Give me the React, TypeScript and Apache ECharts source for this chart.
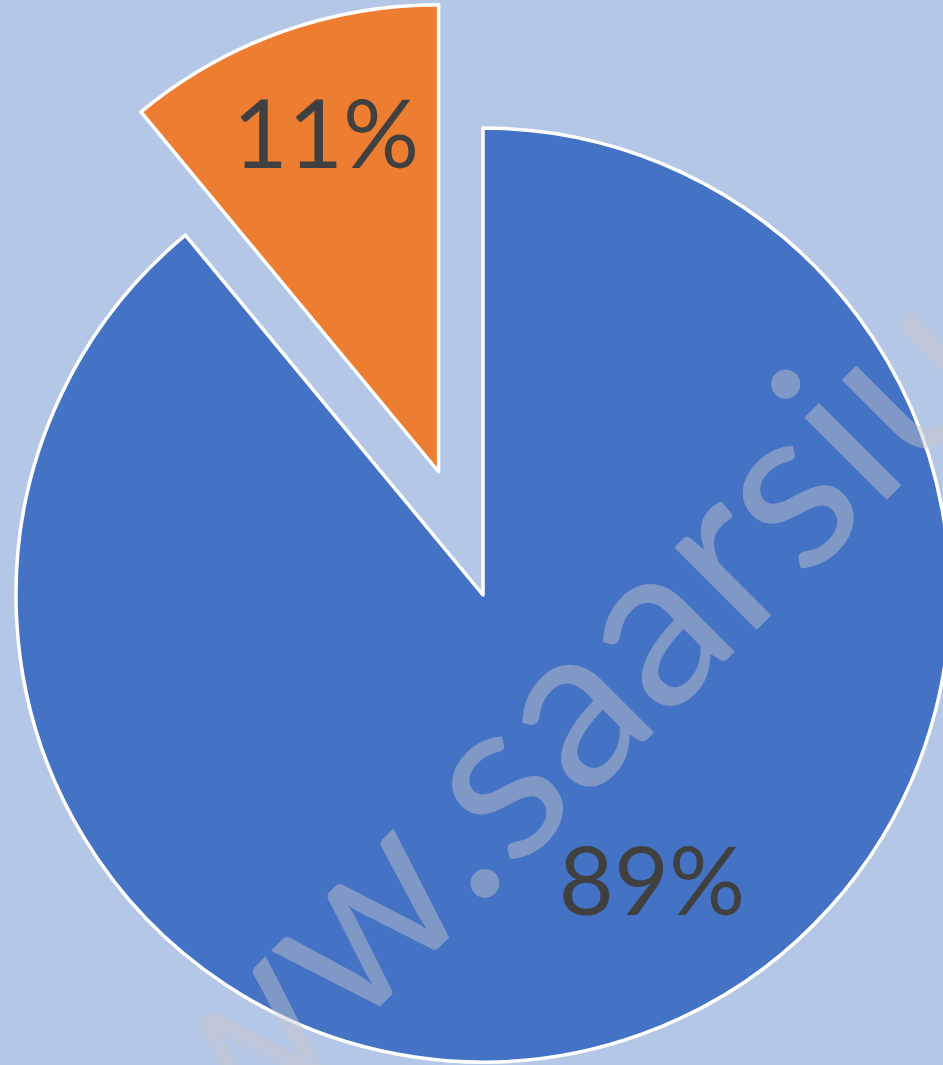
import React, { useEffect, useRef } from "react";
import * as echarts from "echarts";

const categories = ["Part A", "Part B"];
const values = [89, 11];
const colors = ["#4472C4", "#ED7D31"];
const watermarkLeft = "www.";
const watermarkRight = "saarsiu.com";

export default function App() {
  const ref = useRef<HTMLDivElement>(null);
  useEffect(() => {
    const chart = echarts.init(ref.current!, null, { renderer: "svg" });
    const total = values.reduce((a, b) => a + b, 0);
    const labelPos = [
      [652, 878],
      [326, 131],
    ];
    const wmStyle = {
      fontFamily: "Lato",
      fontSize: 230,
      fill: "rgba(200,200,200,0.45)",
      verticalAlign: "top",
    };
    const wmX = 369;
    const wmY = 729;
    chart.setOption({
      animation: false,
      backgroundColor: "#B4C7E7",
      series: [
        {
          type: "pie",
          center: [483, 595],
          radius: 467,
          startAngle: 90,
          clockwise: true,
          selectedMode: "single",
          selectedOffset: 131,
          avoidLabelOverlap: false,
          data: categories.map((c, i) => ({
            name: c,
            value: values[i],
            selected: i === 1,
            itemStyle: { color: colors[i] },
          })),
          itemStyle: { borderColor: "#ffffff", borderWidth: 3.5 },
          label: { show: false },
          labelLine: { show: false },
          emphasis: { disabled: true },
        },
      ],
      graphic: [
        ...values.map((v, i) => ({
          type: "text",
          x: labelPos[i][0],
          y: labelPos[i][1],
          z: 50,
          silent: true,
          style: {
            text: Math.round((v / total) * 100) + "%",
            fontFamily: "Lato",
            fontSize: 95,
            fill: "#404040",
            align: "center",
            verticalAlign: "middle",
          },
        })),
        {
          type: "text",
          x: wmX,
          y: wmY,
          rotation: Math.PI / 4,
          z: 100,
          silent: true,
          style: { ...wmStyle, text: watermarkLeft, align: "right" },
        },
        {
          type: "text",
          x: wmX,
          y: wmY,
          rotation: Math.PI / 4,
          z: 100,
          silent: true,
          style: { ...wmStyle, text: watermarkRight, align: "left" },
        },
      ],
    });
    return () => chart.dispose();
  }, []);
  return (
    <div
      ref={ref}
      style={{ position: "absolute", left: 0, top: 0, width: 943, height: 1065 }}
    />
  );
}
